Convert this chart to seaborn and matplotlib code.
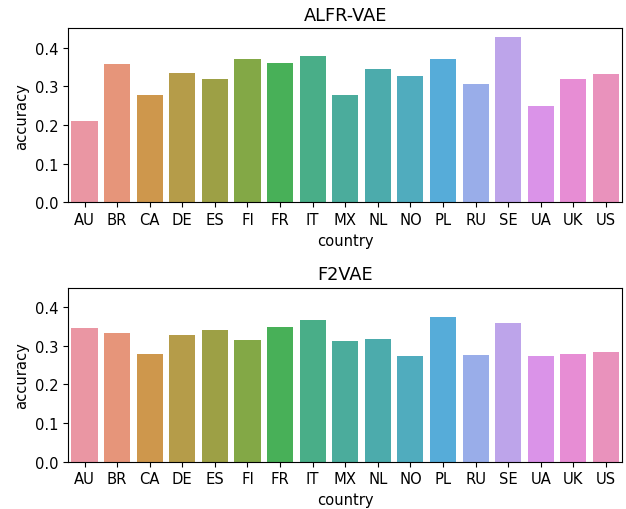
import matplotlib
matplotlib.use("Agg")
import matplotlib.pyplot as plt
import seaborn as sns
import pandas as pd

countries = ["AU", "BR", "CA", "DE", "ES", "FI", "FR", "IT", "MX", "NL",
             "NO", "PL", "RU", "SE", "UA", "UK", "US"]
alfr_vae = [0.211, 0.357, 0.279, 0.336, 0.318, 0.372, 0.362, 0.380, 0.279,
            0.344, 0.328, 0.372, 0.307, 0.429, 0.250, 0.318, 0.331]
f2vae = [0.347, 0.334, 0.279, 0.328, 0.341, 0.315, 0.349, 0.367, 0.313,
         0.318, 0.274, 0.375, 0.277, 0.360, 0.274, 0.279, 0.284]
titles = ["ALFR-VAE", "F2VAE"]

palette = sns.husl_palette(len(countries), l=.7)

fs = 10.65
fig, axes = plt.subplots(2, 1, figsize=(6.26, 5.1), dpi=100, sharey=True)
for ax, vals, title in zip(axes, [alfr_vae, f2vae], titles):
    df = pd.DataFrame({"country": countries, "accuracy": vals})
    sns.barplot(data=df, x="country", y="accuracy", hue="country",
                palette=palette, saturation=.75, legend=False, ax=ax)
    ax.set_title(title, fontsize=12.8)
    ax.tick_params(axis="y", labelleft=True)
    ax.tick_params(labelsize=fs)
    ax.set_xlabel("country", fontsize=fs)
    ax.set_ylabel("accuracy", fontsize=fs)
axes[0].set_ylim(0, 0.4505)
fig.subplots_adjust(left=0.109, right=0.994, top=0.9425, bottom=0.0927, hspace=0.491)
fig.savefig("out.png", dpi=100)
